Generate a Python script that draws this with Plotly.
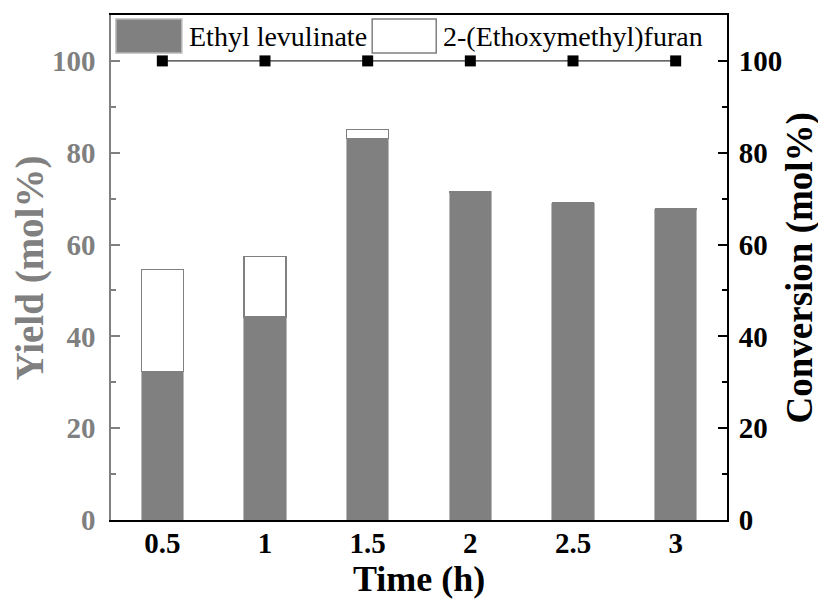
import plotly.graph_objects as go

times = ["0.5", "1", "1.5", "2", "2.5", "3"]
ethyl_levulinate = [32.3, 44.2, 83.1, 71.5, 69.0, 67.7]
ethoxymethylfuran = [22.3, 13.2, 2.0, 0.0, 0.0, 0.0]
conversion = [100, 100, 100, 100, 100, 100]

FONT = "Liberation Serif, Times New Roman, serif"
GRAY = "#808080"

fig = go.Figure()
fig.add_trace(go.Bar(
    x=times, y=ethyl_levulinate, name="Ethyl levulinate",
    marker=dict(color=GRAY, line=dict(color="#b8b8b8", width=1)),
    width=0.41, showlegend=False,
))
fig.add_trace(go.Bar(
    x=times, y=ethoxymethylfuran, name="2-(Ethoxymethyl)furan",
    marker=dict(color="white", line=dict(color=GRAY, width=1.5)),
    width=0.41, showlegend=False,
))
fig.add_trace(go.Scatter(
    x=times, y=conversion, yaxis="y2", mode="lines+markers",
    line=dict(color="black", width=1),
    marker=dict(symbol="square", size=11, color="black"),
    showlegend=False, cliponaxis=False,
))

# custom legend
legend_items = [
    (0.008, 0.115, GRAY, "#b8b8b8", 0.123, "Ethyl levulinate"),
    (0.424, 0.528, "white", GRAY, 0.536, "2-(Ethoxymethyl)furan"),
]
for x0, x1, fill, edge, tx, label in legend_items:
    fig.add_shape(type="rect", xref="paper", yref="paper",
                  x0=x0, x1=x1, y0=0.925, y1=0.992,
                  fillcolor=fill, line=dict(color=edge, width=1.5))
    fig.add_annotation(xref="paper", yref="paper", x=tx, y=0.958,
                       text=label, showarrow=False, xanchor="left", yanchor="middle",
                       font=dict(family=FONT, size=28, color="black"))

# axis titles
fig.add_annotation(xref="paper", yref="paper", x=0.5, y=-0.117, text="<b>Time (h)</b>",
                   showarrow=False, xanchor="center", yanchor="middle",
                   font=dict(family=FONT, size=36, color="black"))
fig.add_annotation(xref="paper", yref="paper", x=-0.1315, y=0.5, text="<b>Yield (mol%)</b>",
                   showarrow=False, xanchor="center", yanchor="middle", textangle=-90,
                   font=dict(family=FONT, size=39, color=GRAY))
fig.add_annotation(xref="paper", yref="paper", x=1.1185, y=0.5, text="<b>Conversion (mol%)</b>",
                   showarrow=False, xanchor="center", yanchor="middle", textangle=-90,
                   font=dict(family=FONT, size=37, color="black"))

# page has 8px body margin: figure sized/offset to fit the 826x599 window
fig.update_layout(
    width=818, height=591,
    margin=dict(l=103, r=99, t=7, b=79, autoexpand=False),
    paper_bgcolor="white", plot_bgcolor="white",
    barmode="stack", bargap=0.59,
    font=dict(family=FONT),
    xaxis=dict(
        type="category", range=[-0.5, 5.5],
        showline=True, linecolor="black", linewidth=2, mirror=True,
        ticks="", showgrid=False,
        tickfont=dict(family=FONT, size=29, color="black", weight="bold"),
        ticklabelstandoff=-4,
        automargin=False,
    ),
    yaxis=dict(
        range=[0, 110], tickvals=[0, 20, 40, 60, 80, 100],
        showline=True, linecolor=GRAY, linewidth=1.5,
        ticks="inside", ticklen=9, tickwidth=1.5, tickcolor=GRAY,
        minor=dict(ticks="inside", ticklen=5, tickwidth=1.5, tickcolor=GRAY, dtick=10),
        showgrid=False, zeroline=False,
        tickfont=dict(family=FONT, size=29, color=GRAY, weight="bold"),
        ticklabelstandoff=8,
        automargin=False,
    ),
    yaxis2=dict(
        overlaying="y", side="right", range=[0, 110], tickvals=[0, 20, 40, 60, 80, 100],
        showline=True, linecolor="black", linewidth=2,
        ticks="inside", ticklen=9, tickwidth=1.5, tickcolor="black",
        minor=dict(ticks="inside", ticklen=5, tickwidth=1.5, tickcolor="black", dtick=10),
        showgrid=False, zeroline=False,
        tickfont=dict(family=FONT, size=29, color="black", weight="bold"),
        ticklabelstandoff=4,
        automargin=False,
    ),
)

fig.write_html("out.html")
